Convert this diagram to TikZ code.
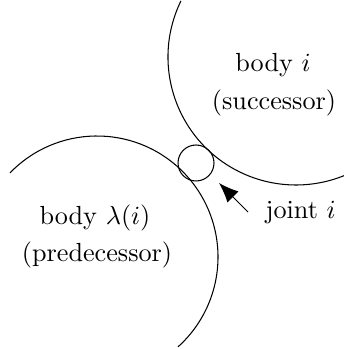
\documentclass[tikz,border=0pt]{standalone}
\usetikzlibrary{arrows.meta}
\begin{document}
\begin{tikzpicture}[x=0.382pt,y=0.382pt,
  bodyarc/.style={line width=0.4pt},
  lbl/.style={inner sep=0pt, font=\normalsize},
  jointcirc/.style={circle, draw, line width=0.4pt, inner sep=0pt, minimum size=13.75pt},
  pointer/.style={-{Latex[length=7.5pt,width=6pt]}, line width=0.4pt}]
\useasboundingbox (0,0) rectangle (345,349);
% successor body
\draw[bodyarc] (296,292) ++(154:128) arc[start angle=154, end angle=292, radius=128];
% predecessor body
\draw[bodyarc] (97,92) ++(136:121) arc[start angle=136, end angle=-48, radius=121];
% joint
\node[jointcirc] (joint) at (196,186) {};
\node[lbl] (b1) at (273,284) {body $i$};
\node[lbl] (s1) at (274,246) {(successor)};
\node[lbl] (b2) at (95,131) {body $\lambda(i)$};
\node[lbl] (p2) at (97,94) {(predecessor)};
\node[lbl, anchor=west] (jl) at (265,136) {joint $i$};
\coordinate (tail) at (248,137);
\coordinate (tip) at (219,166);
\draw[pointer] (tail) -- (tip);
\end{tikzpicture}
\end{document}
